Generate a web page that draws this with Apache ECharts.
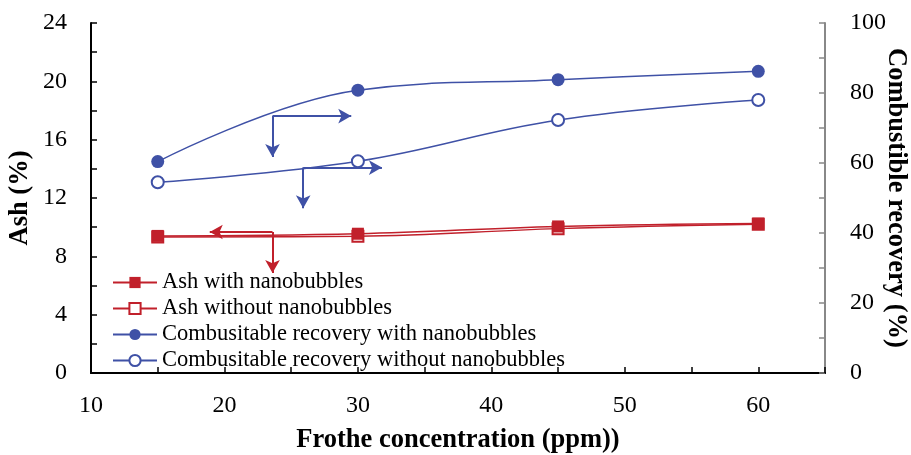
<!DOCTYPE html>
<html>
<head>
<meta charset="utf-8">
<script src="https://cdn.jsdelivr.net/npm/echarts@6/dist/echarts.min.js"></script>
<style>
  html, body { margin: 0; padding: 0; background: #fff; }
  #chart { width: 911px; height: 455px; }
</style>
</head>
<body>
<div id="chart"></div>
<script>
// Frother concentration (ppm)
const frother = [15, 30, 45, 60];

// Ash content (%) — left axis
const ashWith = [9.4, 9.55, 10.05, 10.25];
const ashWithout = [9.33, 9.38, 9.9, 10.2];

// Combustible recovery (%) — right axis
const recoveryWith = [60.4, 80.8, 83.8, 86.2];
const recoveryWithout = [54.5, 60.5, 72.3, 78.0];

// Axis pointers: [cornerX, cornerY, horizontalTipX, verticalTipY] in data units
const recoveryPointerA = [23.6, 73.4, 29.5, 61.7];
const recoveryPointerB = [25.9, 58.7, 31.8, 47.1];
const ashPointer = [23.6, 9.67, 18.9, 6.86];

const seriesNames = [
  'Ash with nanobubbles',
  'Ash without nanobubbles',
  'Combusitable recovery with nanobubbles',
  'Combusitable recovery without nanobubbles'
];

const RED = '#c1202b';
const BLUE = '#3f51a6';
const FONT = '"Liberation Serif", "Times New Roman", serif';

function pairs(ys) { return frother.map((x, i) => [x, ys[i]]); }

function pointerLines(p, color) {
  return {
    silent: true,
    symbol: ['none', 'arrow'],
    symbolSize: [11, 13],
    animation: false,
    label: { show: false },
    emphasis: { disabled: true },
    lineStyle: { color: color, width: 2, type: 'solid' },
    data: [
      [{ coord: [p[0], p[1]] }, { coord: [p[2], p[1]] }],
      [{ coord: [p[0], p[1]] }, { coord: [p[0], p[3]] }]
    ]
  };
}

const chart = echarts.init(document.getElementById('chart'), null, { renderer: 'canvas' });

const tickLabel = { fontFamily: FONT, fontSize: 24, color: '#000' };
const titleStyle = { fontFamily: FONT, fontSize: 26.5, fontWeight: 'bold', color: '#000' };

chart.setOption({
  animation: false,
  grid: { left: 91, right: 86, top: 23, bottom: 82, containLabel: false, outerBoundsMode: 'none' },
  legend: {
    data: seriesNames,
    orient: 'vertical',
    left: 107,
    top: 266,
    itemWidth: 44,
    itemHeight: 14,
    itemGap: 3,
    textStyle: { fontFamily: FONT, fontSize: 22.5, color: '#000' },
    selectedMode: false
  },
  xAxis: [
    {
      type: 'value', min: 10, max: 65, interval: 5,
      name: 'Frothe concentration (ppm))',
      nameLocation: 'middle', nameGap: 54,
      nameTextStyle: titleStyle,
      axisLine: { show: true, lineStyle: { color: '#000', width: 2 } },
      axisTick: { show: true, inside: true, length: 6, lineStyle: { color: '#000', width: 1.5 } },
      axisLabel: Object.assign({ margin: 21, formatter: v => (v % 10 === 0 && v <= 60) ? String(v) : '' }, tickLabel),
      splitLine: { show: false }
    },
    {
      type: 'value', min: 10, max: 65, position: 'top',
      axisLine: { show: true, lineStyle: { color: '#000', width: 1.5 } },
      axisTick: { show: false }, axisLabel: { show: false }, splitLine: { show: false }
    }
  ],
  yAxis: [
    {
      type: 'value', min: 0, max: 24, interval: 2,
      name: 'Ash (%)',
      nameLocation: 'middle', nameGap: 57, nameRotate: 90, nameMoveOverlap: false,
      nameTextStyle: titleStyle,
      axisLine: { show: true, lineStyle: { color: '#000', width: 2 } },
      axisTick: { show: true, inside: true, length: 6, lineStyle: { color: '#000', width: 1.5 } },
      axisLabel: Object.assign({ margin: 24, formatter: v => v % 4 === 0 ? String(v) : '' }, tickLabel),
      splitLine: { show: false }
    },
    {
      type: 'value', min: 0, max: 100, interval: 10, position: 'right',
      name: 'Combustible recovery (%)',
      nameLocation: 'middle', nameGap: 57, nameRotate: -90, nameMoveOverlap: false,
      nameTextStyle: titleStyle,
      axisLine: { show: true, lineStyle: { color: '#888', width: 2 } },
      axisTick: { show: true, inside: true, length: 6, lineStyle: { color: '#888', width: 1.5 } },
      axisLabel: Object.assign({ margin: 25, formatter: v => v % 20 === 0 ? String(v) : '' }, tickLabel),
      splitLine: { show: false }
    }
  ],
  series: [
    {
      name: seriesNames[1], type: 'line', yAxisIndex: 0, z: 2,
      data: pairs(ashWithout), smooth: 0.4,
      symbol: 'emptyRect', symbolSize: 11,
      lineStyle: { color: RED, width: 1.5 },
      itemStyle: { color: RED, borderColor: RED, borderWidth: 1.5 }
    },
    {
      name: seriesNames[0], type: 'line', yAxisIndex: 0, z: 3,
      data: pairs(ashWith), smooth: 0.4,
      symbol: 'rect', symbolSize: 12,
      lineStyle: { color: RED, width: 1.5 },
      itemStyle: { color: RED },
      markLine: pointerLines(ashPointer, RED)
    },
    {
      name: seriesNames[3], type: 'line', yAxisIndex: 1, z: 2,
      data: pairs(recoveryWithout), smooth: 0.4,
      symbol: 'emptyCircle', symbolSize: 12,
      lineStyle: { color: BLUE, width: 1.5 },
      itemStyle: { color: BLUE, borderColor: BLUE, borderWidth: 1.5 },
      markLine: pointerLines(recoveryPointerB, BLUE)
    },
    {
      name: seriesNames[2], type: 'line', yAxisIndex: 1, z: 3,
      data: pairs(recoveryWith), smooth: 0.4,
      symbol: 'circle', symbolSize: 13,
      lineStyle: { color: BLUE, width: 1.5 },
      itemStyle: { color: BLUE },
      markLine: pointerLines(recoveryPointerA, BLUE)
    }
  ]
});
</script>
</body>
</html>
